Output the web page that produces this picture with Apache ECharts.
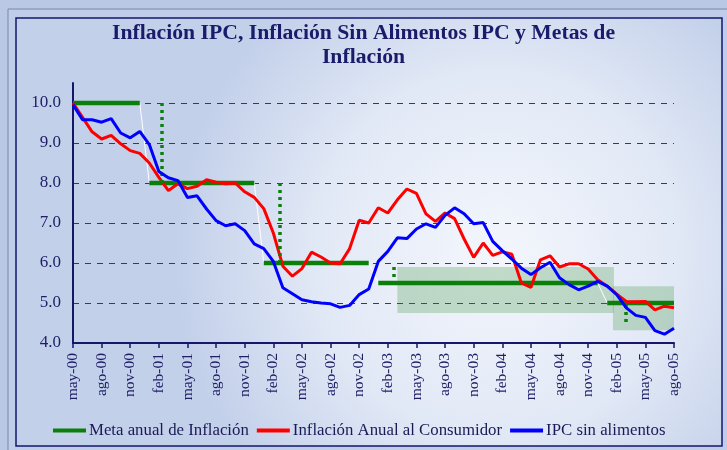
<!DOCTYPE html>
<html>
<head>
<meta charset="utf-8">
<script src="https://cdn.jsdelivr.net/npm/echarts@6/dist/echarts.min.js"></script>
<style>
  html, body { margin: 0; padding: 0; background: #b9c8e5; }
  #main { width: 727px; height: 450px; }
</style>
</head>
<body>
<div id="main"></div>
<script>
// etiquetas del eje X (una cada 3 meses, may-00 .. ago-05)
var tickLabels = ['may-00', 'ago-00', 'nov-00', 'feb-01', 'may-01', 'ago-01', 'nov-01',
  'feb-02', 'may-02', 'ago-02', 'nov-02', 'feb-03', 'may-03', 'ago-03', 'nov-03',
  'feb-04', 'may-04', 'ago-04', 'nov-04', 'feb-05', 'may-05', 'ago-05']

// meta anual de inflacion, mensual
var meta = [
  10, 10, 10, 10, 10, 10, 10, 10,
  8, 8, 8, 8, 8, 8, 8, 8, 8, 8, 8, 8,
  6, 6, 6, 6, 6, 6, 6, 6, 6, 6, 6, 6,
  5.5, 5.5, 5.5, 5.5, 5.5, 5.5, 5.5, 5.5, 5.5, 5.5, 5.5, 5.5,
  5.5, 5.5, 5.5, 5.5, 5.5, 5.5, 5.5, 5.5, 5.5, 5.5, 5.5, 5.5,
  5, 5, 5, 5, 5, 5, 5, 5
]

// inflacion anual al consumidor
var ipc = [
  10.00, 9.64, 9.28, 9.10, 9.19, 8.98, 8.81, 8.74, 8.50, 8.14, 7.81, 7.98,
  7.86, 7.92, 8.08, 8.02, 7.98, 8.00, 7.78, 7.64, 7.36, 6.75, 5.92, 5.67,
  5.86, 6.27, 6.15, 6.00, 5.98, 6.36, 7.07, 7.00, 7.38, 7.25, 7.58, 7.85,
  7.74, 7.23, 7.04, 7.25, 7.11, 6.60, 6.14, 6.50, 6.19, 6.28, 6.22, 5.50,
  5.39, 6.08, 6.18, 5.90, 5.98, 5.98, 5.85, 5.58, 5.42, 5.22, 5.04, 5.03,
  5.04, 4.83, 4.92, 4.88
]

// IPC sin alimentos
var ipcSinAlimentos = [
  9.96, 9.58, 9.58, 9.52, 9.61, 9.25, 9.13, 9.29, 8.96, 8.29, 8.13, 8.06,
  7.64, 7.68, 7.35, 7.06, 6.93, 6.98, 6.81, 6.48, 6.36, 6.04, 5.38, 5.23,
  5.08, 5.03, 5.00, 4.98, 4.89, 4.94, 5.21, 5.35, 6.04, 6.29, 6.63, 6.61,
  6.85, 6.98, 6.89, 7.19, 7.38, 7.23, 6.98, 7.01, 6.54, 6.31, 6.10, 5.87,
  5.71, 5.88, 6.02, 5.63, 5.46, 5.33, 5.42, 5.54, 5.42, 5.21, 4.88, 4.69,
  4.64, 4.31, 4.22, 4.37
]

// rangos de meta: [mes inicio, mes fin, valor bajo, valor alto]
var rangos = [[34, 56.7, 4.75, 5.9], [56.6, 63.3, 4.32, 5.42]]
// lineas punteadas: [mes, desde, hasta]
var anuncios = [[9.3, 10, 8], [21.7, 8, 6], [33.6, 5.9, 5.5], [57.9, 4.95, 4.45]]

var navy = '#16166a'
var verde = '#0a800a'

function pares (arr) {
  return arr.map(function (v, i) { return [i, v] })
}

// tramos de la meta separados (cortes entre años)
function tramos (arr) {
  var out = []
  arr.forEach(function (v, i) {
    if (i > 0 && arr[i - 1] !== v) out.push([i - 0.5, '-'])
    out.push([i, v])
  })
  return out
}

var chart = echarts.init(document.getElementById('main'))

var option = {
  animation: false,
  backgroundColor: '#b9c8e5',
  textStyle: { fontFamily: 'Liberation Serif' },
  graphic: [
    {
      type: 'rect', z: -20, silent: true,
      shape: { x: 8, y: 9, width: 727, height: 450 },
      style: { fill: '#bfcdea', stroke: '#7f889c', lineWidth: 1 }
    },
    {
      type: 'rect', z: -19, silent: true,
      shape: { x: 16, y: 18, width: 706, height: 428 },
      style: {
        fill: {
          type: 'radial', x: 0.68, y: 0.55, r: 0.75,
          colorStops: [
            { offset: 0, color: '#f3f6fc' },
            { offset: 0.55, color: '#e2e9f6' },
            { offset: 1, color: '#c3d0ea' }
          ]
        },
        stroke: navy,
        lineWidth: 1.5
      }
    }
  ],
  title: {
    text: 'Inflación IPC, Inflación Sin Alimentos IPC y Metas de\nInflación',
    left: 'center',
    top: 21,
    padding: [0, 0, 0, 25],
    textStyle: {
      fontFamily: 'Liberation Serif',
      fontSize: 21.7,
      fontWeight: 'bold',
      color: '#1b1b6b',
      lineHeight: 24
    }
  },
  legend: {
    data: ['Meta anual de Inflación', 'Inflación Anual al Consumidor', 'IPC sin alimentos'],
    left: 48,
    top: 417,
    icon: 'rect',
    itemWidth: 33,
    itemHeight: 4,
    itemGap: 8,
    textStyle: { fontSize: 16.8, color: '#1a1a55', fontFamily: 'Liberation Serif', padding: [0, 0, 0, -2] }
  },
  grid: {
    left: 73,
    right: 53,
    top: 83,
    bottom: 107
  },
  xAxis: {
    type: 'value',
    min: 0,
    max: 63,
    interval: 3,
    axisLine: { show: true, lineStyle: { color: navy, width: 2 } },
    axisTick: { show: true, length: 5, lineStyle: { color: navy, width: 1.5 } },
    axisLabel: {
      rotate: 90,
      margin: 10,
      fontSize: 15.5,
      color: '#1f1f66',
      formatter: function (v) { return tickLabels[v / 3] }
    },
    splitLine: { show: false }
  },
  yAxis: {
    type: 'value',
    min: 4,
    max: 10.5,
    interval: 1,
    axisLine: { show: true, lineStyle: { color: navy, width: 2 } },
    axisTick: { show: false },
    axisLabel: {
      margin: 12,
      fontSize: 17,
      color: '#1f1f66',
      showMaxLabel: false,
      formatter: function (v) { return v.toFixed(1) }
    },
    splitLine: {
      show: true,
      showMaxLine: false,
      showMinLine: false,
      lineStyle: { color: '#3c3c44', width: 1, type: [6, 6] }
    }
  },
  series: [
    {
      type: 'line',
      data: pares(meta),
      symbol: 'none',
      silent: true,
      clip: false,
      z: 1,
      lineStyle: { color: '#ffffff', width: 1 },
      markArea: {
        silent: true,
        itemStyle: { color: 'rgba(70, 150, 70, 0.28)' },
        data: rangos.map(function (r) {
          return [{ coord: [r[0], r[3]] }, { coord: [r[1], r[2]] }]
        })
      },
      markLine: {
        silent: true,
        symbol: ['none', 'none'],
        label: { show: false },
        lineStyle: { color: verde, width: 3.5, type: [3, 4] },
        data: anuncios.map(function (a) {
          return [{ coord: [a[0], a[1]] }, { coord: [a[0], a[2]] }]
        })
      }
    },
    {
      name: 'Meta anual de Inflación',
      type: 'line',
      data: tramos(meta),
      symbol: 'none',
      connectNulls: false,
      z: 3,
      itemStyle: { color: verde },
      lineStyle: { color: verde, width: 4.5 }
    },
    {
      name: 'Inflación Anual al Consumidor',
      type: 'line',
      data: pares(ipc),
      symbol: 'none',
      z: 4,
      itemStyle: { color: '#ff0000' },
      lineStyle: { color: '#ff0000', width: 3 }
    },
    {
      name: 'IPC sin alimentos',
      type: 'line',
      data: pares(ipcSinAlimentos),
      symbol: 'none',
      z: 5,
      itemStyle: { color: '#0000ff' },
      lineStyle: { color: '#0000ff', width: 3 }
    }
  ]
}

chart.setOption(option)
</script>
</body>
</html>
